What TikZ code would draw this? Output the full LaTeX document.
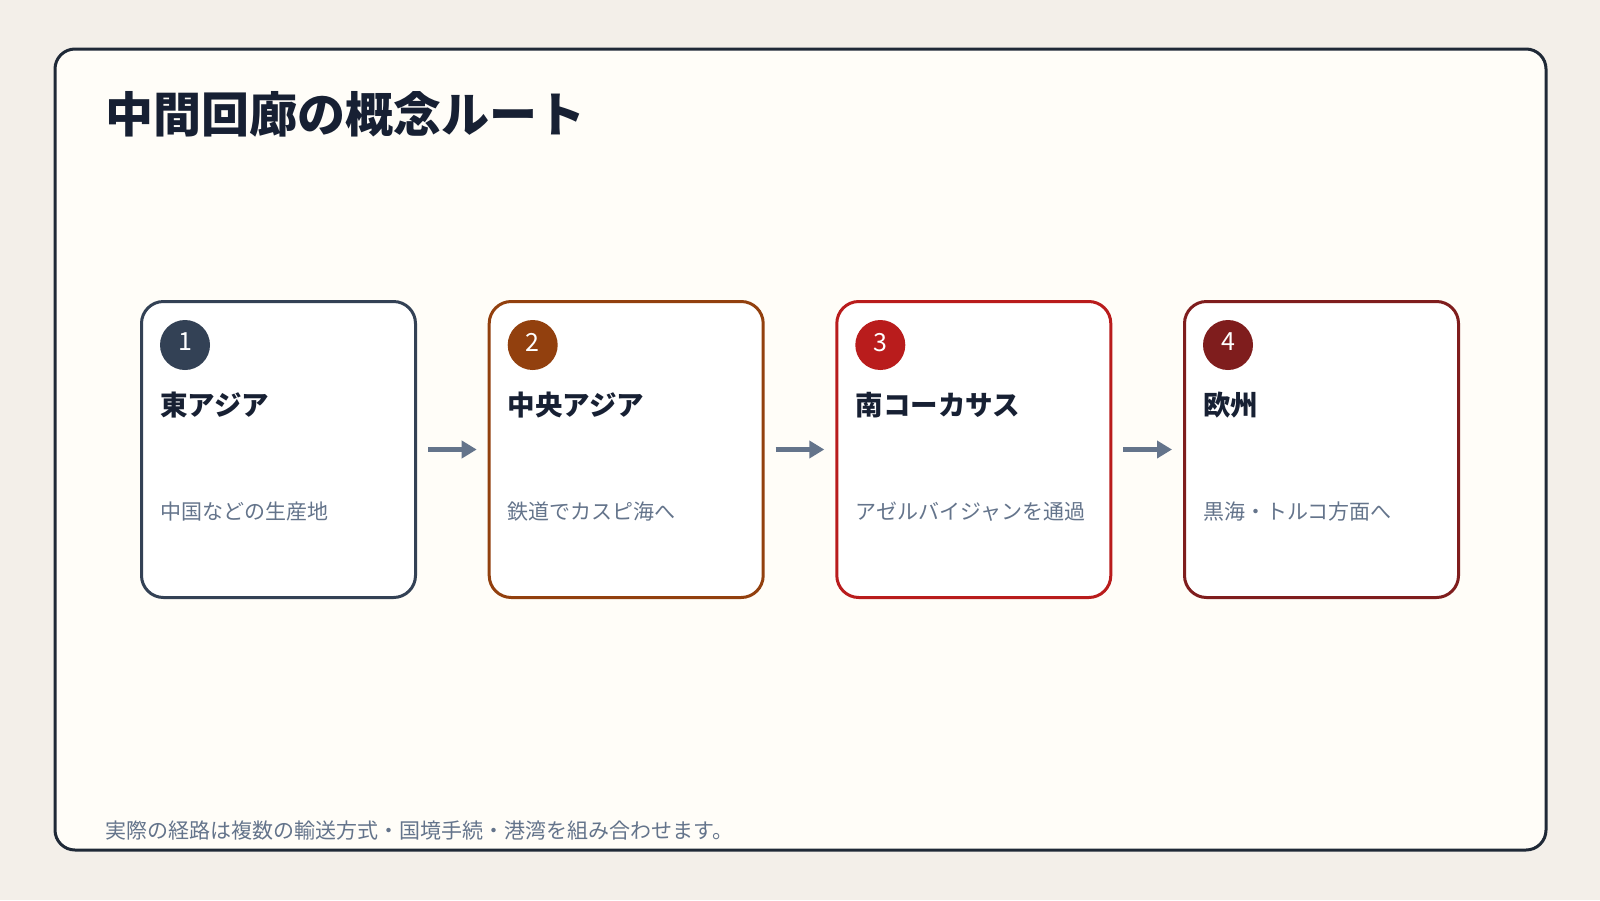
\documentclass[tikz,border=0pt]{standalone}
\usepackage{fontspec}
\setmainfont{Noto Sans CJK JP}
\usetikzlibrary{arrows.meta}
\definecolor{outerbg}{HTML}{F3EFE9}
\definecolor{innerbg}{HTML}{FFFDF8}
\definecolor{framecol}{HTML}{1F2937}
\definecolor{titlecol}{HTML}{172033}
\definecolor{graytxt}{HTML}{64748B}
\definecolor{cA}{HTML}{334155}
\definecolor{cB}{HTML}{92400E}
\definecolor{cC}{HTML}{B91C1C}
\definecolor{cD}{HTML}{7F1D1D}
\tikzset{
  stagebox/.style={draw=#1, line width=3pt, fill=white, rounded corners=22pt,
    minimum width=274pt, minimum height=296pt, anchor=north west, inner sep=0pt},
  badge/.style={circle, fill=#1, minimum size=50pt, inner sep=0pt, text=white,
    font=\fontsize{25}{25}\selectfont},
  headtxt/.style={anchor=base west, inner sep=0pt, text=titlecol,
    font=\fontsize{27.5}{27.5}\selectfont\bfseries},
  subtxt/.style={anchor=base west, inner sep=0pt, text=graytxt,
    font=\fontsize{21}{21}\selectfont},
  flowarrow/.style={draw=graytxt, line width=5pt,
    -{Triangle[length=15pt,width=17pt]}, shorten <=11pt, shorten >=11pt}
}
\begin{document}
\begin{tikzpicture}[x=1pt,y=-1pt]
\useasboundingbox (0,0) rectangle (1600,900);
\fill[outerbg] (0,0) rectangle (1600,900);
\draw[framecol, line width=3pt, fill=innerbg, rounded corners=20pt] (55,49) rectangle (1546,850);
\node[anchor=base west, inner sep=0pt, text=titlecol, font=\fontsize{48}{48}\selectfont\bfseries] (title) at (105,132) {中間回廊の概念ルート};

\node[stagebox=cA] (box1) at (140,300) {};
\node[stagebox=cB] (box2) at (487.7,300) {};
\node[stagebox=cC] (box3) at (835.3,300) {};
\node[stagebox=cD] (box4) at (1183,300) {};

\node[badge=cA] (num1) at (185,345) {\raisebox{6pt}{1}};
\node[badge=cB] (num2) at (532.7,345) {\raisebox{6pt}{2}};
\node[badge=cC] (num3) at (880.3,345) {\raisebox{6pt}{3}};
\node[badge=cD] (num4) at (1228,345) {\raisebox{6pt}{4}};

\node[headtxt] (h1) at (160,415) {東アジア};
\node[headtxt] (h2) at (507.7,415) {中央アジア};
\node[headtxt] (h3) at (855.3,415) {南コーカサス};
\node[headtxt] (h4) at (1203,415) {欧州};

\node[subtxt] (s1) at (160,519) {中国などの生産地};
\node[subtxt] (s2) at (507.7,519) {鉄道でカスピ海へ};
\node[subtxt] (s3) at (855.3,519) {アゼルバイジャンを通過};
\node[subtxt] (s4) at (1203,519) {黒海・トルコ方面へ};

\draw[flowarrow] (box1.east) -- (box2.west);
\draw[flowarrow] (box2.east) -- (box3.west);
\draw[flowarrow] (box3.east) -- (box4.west);

\node[anchor=base west, inner sep=0pt, text=graytxt, font=\fontsize{21}{21}\selectfont] (foot) at (105,838) {実際の経路は複数の輸送方式・国境手続・港湾を組み合わせます。};
\end{tikzpicture}
\end{document}
